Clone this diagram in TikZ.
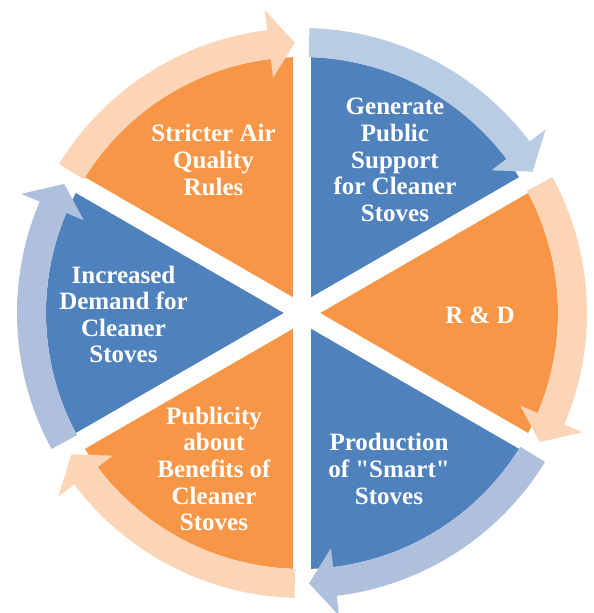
\documentclass[tikz,border=0pt]{standalone}
\usepackage{fontspec}
\setmainfont{Liberation Serif}
\definecolor{secblue}{HTML}{4F81BD}
\definecolor{secorange}{HTML}{F79646}
\definecolor{arrblueA}{HTML}{B8CCE4}
\definecolor{arrblueB}{HTML}{AFC0DC}
\definecolor{arrorange}{HTML}{FBD5B5}
\tikzset{
  label text/.style={text=white, align=center, inner sep=0pt,
    font=\bfseries\fontsize{25}{26.6}\selectfont},
  gap/.style={white, line width=18pt}
}
% sector: #1 start angle, #2 colour (spans 60 degrees clockwise)
\newcommand{\pieslice}[2]{%
  \fill[#2] (0,0) -- (#1:256) arc[start angle=#1, end angle=#1-60, radius=256] -- cycle;}
% curved clockwise arrow along the rim of the sector starting at angle #1
\newcommand{\rimarrow}[2]{%
  \pgfmathsetmacro{\as}{#1-1.5}%
  \pgfmathsetmacro{\at}{#1-58.5}%
  \pgfmathsetmacro{\ab}{#1-53}%
  \fill[#2] (\as:285) arc[start angle=\as, end angle=\ab, radius=285]
    -- (\ab:305) -- (\at:270.5) -- (\ab:237) -- (\ab:256)
    arc[start angle=\ab, end angle=\as, radius=256] -- cycle;}
\begin{document}
\begin{tikzpicture}[x=1pt,y=1pt]
\useasboundingbox (-302,-300) rectangle (292,313);
% pie sectors
\pieslice{90}{secblue}
\pieslice{30}{secorange}
\pieslice{-30}{secblue}
\pieslice{-90}{secorange}
\pieslice{-150}{secblue}
\pieslice{150}{secorange}
% white separating gaps
\draw[gap] (90:262) -- (-90:262);
\draw[gap] (30:262) -- (-150:262);
\draw[gap] (-30:262) -- (150:262);
% rim arrows
\rimarrow{90}{arrblueA}
\rimarrow{30}{arrorange}
\rimarrow{-30}{arrblueB}
\rimarrow{-90}{arrorange}
\rimarrow{-150}{arrblueB}
\rimarrow{150}{arrorange}
% labels
\node[label text] (gen) at (93,153) {Generate\\Public\\Support\\for Cleaner\\Stoves};
\node[label text] (rnd) at (178,-2) {R \& D};
\node[label text] (prod) at (87,-156) {Production\\of \textquotedbl Smart\textquotedbl\\Stoves};
\node[label text] (pub) at (-88,-156) {Publicity\\about\\Benefits of\\Cleaner\\Stoves};
\node[label text] (dem) at (-178.5,-1.5) {Increased\\Demand for\\Cleaner\\Stoves};
\node[label text] (rules) at (-88.5,153) {Stricter Air\\Quality\\Rules};
\end{tikzpicture}
\end{document}
